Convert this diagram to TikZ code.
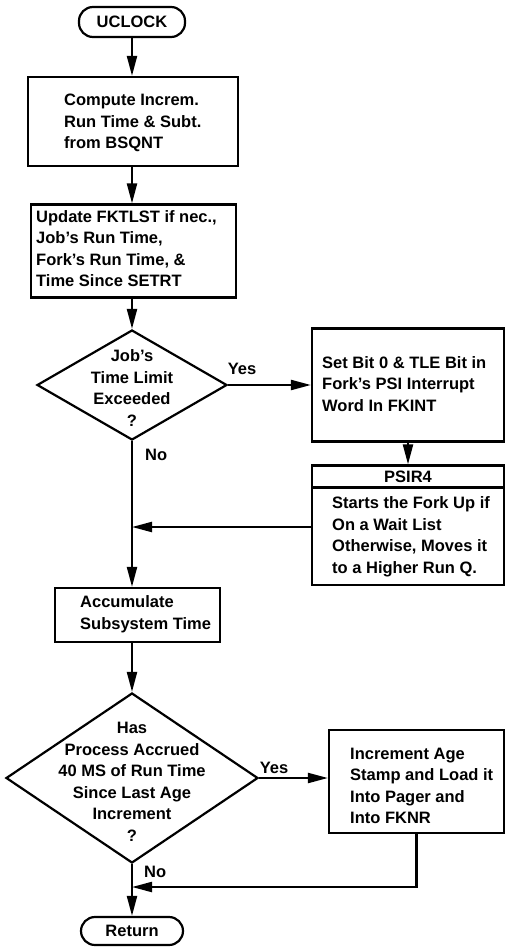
\documentclass[tikz,border=0pt]{standalone}
\usepackage{fontspec}
\setmainfont{Liberation Sans}
\usetikzlibrary{arrows.meta,shapes.geometric}

\begin{document}
\begin{tikzpicture}[x=1pt,y=-1pt,
  every node/.style={font=\fontsize{16.5}{21.5}\selectfont\bfseries},
  line/.style={line width=2.2pt},
  flow/.style={line, -{Triangle[length=20pt,width=10pt]}},
  box/.style={draw, line width=2.2pt, rectangle, inner sep=0pt},
  term/.style={draw, line width=2.2pt, rectangle, rounded corners=14pt, inner sep=0pt},
  decision/.style={draw, line width=2.2pt, diamond, inner sep=0pt},
  txt/.style={align=left, inner sep=0pt, anchor=west},
  ctxt/.style={align=center, inner sep=0pt},
  tag/.style={inner sep=0pt}]

\useasboundingbox (0,0) rectangle (506,947);

% --- main column ---
\node[term, minimum width=106pt, minimum height=30pt] (start) at (132,22) {UCLOCK};

\node[box, minimum width=210pt, minimum height=89pt] (b1) at (133,121.5) {};
\node[txt] (b1t) at (64,123) {Compute Increm.\\Run Time \& Subt.\\from BSQNT};

\node[box, minimum width=205pt, minimum height=93pt] (b2) at (133.5,251) {};
\node[txt] (b2t) at (36,248.5) {Update FKTLST if nec.,\\Job's Run Time,\\Fork's Run Time, \&\\Time Since SETRT};

\node[decision, minimum width=190pt, minimum height=110pt] (d1) at (132,385) {};
\node[ctxt] (d1t) at (132,388) {Job's\\Time Limit\\Exceeded\\?};

\node[box, minimum width=165pt, minimum height=54pt] (acc) at (137.5,615) {};
\node[txt] (acct) at (80,614) {Accumulate\\Subsystem Time};

\node[decision, minimum width=252pt, minimum height=170pt] (d2) at (132,778) {};
\node[ctxt] (d2t) at (132,782) {Has\\Process Accrued\\40 MS of Run Time\\Since Last Age\\Increment\\?};

\node[term, minimum width=102pt, minimum height=28pt] (ret) at (132,931) {Return};

% --- right column ---
\node[box, minimum width=192pt, minimum height=113pt] (b3) at (408,385) {};
\node[txt] (b3t) at (322,384) {Set Bit 0 \& TLE Bit in\\Fork's PSI Interrupt\\Word In FKINT};

\node[box, minimum width=192pt, minimum height=22pt] (psirh) at (408,476.5) {PSIR4};
\node[box, minimum width=192pt, minimum height=97pt] (psirb) at (408,536.5) {};
\node[txt] (psirbt) at (332,537) {Starts the Fork Up if\\On a Wait List\\Otherwise, Moves it\\to a Higher Run Q.};

\node[box, minimum width=175pt, minimum height=103pt] (b4) at (416.5,781.5) {};
\node[txt] (b4t) at (350,786) {Increment Age\\Stamp and Load it\\Into Pager and\\Into FKNR};

% --- junctions on the main line ---
\coordinate (j1) at (132,527);
\coordinate (j2) at (132,887);

% --- connectors (the main line runs straight down x = 132) ---
\draw[flow] (start.south) -- (start.south |- b1.north);
\draw[flow] (start.south |- b1.south) -- (start.south |- b2.north);
\draw[flow] (d1.north |- b2.south) -- (d1.north);
\draw[flow] (d1.east) -- (d1.east -| b3.west);
\draw[flow] (b3) -- (psirh);
\draw[flow] (d1.south) -- (d1.south |- acc.north);
\draw[flow] (psirb.west |- j1) -- (j1);
\draw[flow] (d2.north |- acc.south) -- (d2.north);
\draw[flow] (d2.east) -- (d2.east -| b4.west);
\draw[flow] (d2.south) -- (ret.north);
\draw[flow] (b4.south) |- (j2);

% --- branch labels ---
\node[tag] (yes1) at (242,369) {Yes};
\node[tag, anchor=west] (no1) at (145,455) {No};
\node[tag] (yes2) at (274,768) {Yes};
\node[tag, anchor=west] (no2) at (144,872) {No};

\end{tikzpicture}
\end{document}
